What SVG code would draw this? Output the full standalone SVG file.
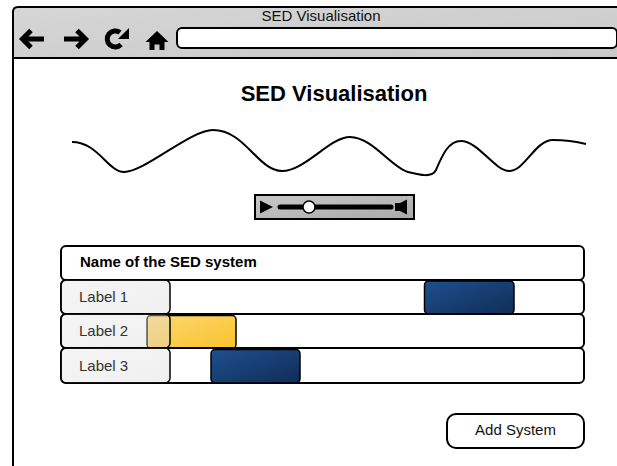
<svg xmlns="http://www.w3.org/2000/svg" width="617" height="466" viewBox="0 0 617 466">
  <style>
    text { font-family: "Liberation Sans", Arial, sans-serif; }
    .frame { fill: none; stroke: #000; stroke-width: 2; }
    .row { fill: #fff; stroke: #000; stroke-width: 2; }
    .lbl { fill: url(#labelFill); stroke: #000; stroke-width: 1.5; }
    .lbltxt { font-size: 15px; fill: #333; }
    .bar { stroke: #000; stroke-width: 1.5; }
    .icon { fill: none; stroke: #000; stroke-width: 5; stroke-linecap: butt; stroke-linejoin: miter; }
  </style>
  <defs>
    <linearGradient id="chrome" x1="0" y1="0" x2="1" y2="1">
      <stop offset="0" stop-color="#d6d6d6"/>
      <stop offset="1" stop-color="#c9c9c9"/>
    </linearGradient>
    <linearGradient id="playerFill" x1="0" y1="0" x2="1" y2="1">
      <stop offset="0" stop-color="#c9c9c9"/>
      <stop offset="1" stop-color="#a9a9a9"/>
    </linearGradient>
    <linearGradient id="labelFill" x1="0" y1="0" x2="1" y2="1">
      <stop offset="0" stop-color="#e4e4e4" stop-opacity="0.38"/>
      <stop offset="1" stop-color="#d8d8d8" stop-opacity="0.38"/>
    </linearGradient>
    <linearGradient id="blueFill" x1="0" y1="0" x2="1" y2="1">
      <stop offset="0" stop-color="#1e4f8e"/>
      <stop offset="1" stop-color="#102d57"/>
    </linearGradient>
    <linearGradient id="yellowFill" x1="0" y1="0" x2="1" y2="1">
      <stop offset="0" stop-color="#fbd974"/>
      <stop offset="1" stop-color="#fbc22a"/>
    </linearGradient>
  </defs>

  <rect width="617" height="466" fill="#fff"/>

  <!-- browser window -->
  <g id="browser">
    <path d="M13,58 L13,12 Q13,7 18,7 L620,7 L620,58 Z" fill="url(#chrome)"/>
    <path class="frame" d="M13,466 L13,12 Q13,7 18,7 L620,7"/>
    <line x1="13" y1="58" x2="620" y2="58" stroke="#000" stroke-width="2"/>
    <text x="321" y="21" font-size="15" text-anchor="middle" fill="#111">SED Visualisation</text>
    <rect x="177" y="28" width="440" height="20" rx="5" fill="#fff" stroke="#000" stroke-width="2"/>
  </g>

  <g id="nav-back">
    <path class="icon" d="M44,39 L23,39 M31,30.5 L22.5,39 L31,47.5"/>
  </g>
  <g id="nav-forward">
    <path class="icon" d="M64,39 L85,39 M77,30.5 L85.5,39 L77,47.5"/>
  </g>
  <g id="nav-reload">
    <path class="icon" d="M121,44.5 A8,8 0 1 1 120,32.5"/>
    <polygon points="129,28 129,39 118,39" fill="#000"/>
  </g>
  <g id="nav-home">
    <path d="M157,31 L145.5,42 L149.5,42 L149.5,50 L154.5,50 L154.5,44.5 L159.5,44.5 L159.5,50 L164.5,50 L164.5,42 L168.5,42 Z" fill="#000"/>
  </g>

  <g id="page-title">
    <text x="334" y="101" font-size="22" font-weight="bold" text-anchor="middle" fill="#000">SED Visualisation</text>
  </g>

  <!-- waveform -->
  <g id="waveform">
    <path d="M72,142 C98,142 108,172 124,172 C145,172 190,130 213,130 C245,130 258,171 282,171 C305,171 330,137 350,137 C372,137 392,168 408,172 C420,175 432,178 436,170 C442,156 448,141 461,141 C478,141 495,171 509,171 C525,171 535,140 553,140 C568,140 578,142 586,144" fill="none" stroke="#000" stroke-width="2"/>
  </g>

  <!-- audio player -->
  <g id="player">
    <rect x="255" y="195" width="159" height="24" fill="url(#playerFill)" stroke="#000" stroke-width="2"/>
    <polygon points="260,200.5 260,213.5 273,207" fill="#000"/>
    <line x1="280" y1="207" x2="391" y2="207" stroke="#000" stroke-width="5" stroke-linecap="round"/>
    <circle cx="309" cy="207" r="6" fill="#fff" stroke="#000" stroke-width="1.5"/>
    <path d="M395,203 L400,203 L407,199.5 L407,214.5 L400,211 L395,211 Z" fill="#000"/>
  </g>

  <!-- timeline table -->
  <g id="table-header">
    <rect class="row" x="61" y="246" width="523" height="34" rx="5"/>
    <text x="80" y="267" font-size="15" font-weight="bold" fill="#000">Name of the SED system</text>
  </g>

  <g id="row-1">
    <rect class="row" x="61" y="280" width="523" height="34" rx="5"/>
    <rect class="bar" x="424.5" y="281" width="89.5" height="33" rx="4" fill="url(#blueFill)"/>
    <rect class="lbl" x="61" y="280" width="109" height="34" rx="5"/>
    <text class="lbltxt" x="79" y="301.5">Label 1</text>
  </g>

  <g id="row-2">
    <rect class="row" x="61" y="314" width="523" height="34" rx="5"/>
    <rect class="bar" x="147" y="315.5" width="89" height="33" rx="4" fill="url(#yellowFill)"/>
    <rect class="lbl" x="61" y="314" width="109" height="34" rx="5"/>
    <text class="lbltxt" x="79" y="336">Label 2</text>
  </g>

  <g id="row-3">
    <rect class="row" x="61" y="348" width="523" height="35" rx="5"/>
    <rect class="bar" x="211" y="349.5" width="89" height="33.5" rx="4" fill="url(#blueFill)"/>
    <rect class="lbl" x="61" y="348" width="109" height="35" rx="5"/>
    <text class="lbltxt" x="79" y="370.5">Label 3</text>
  </g>

  <g id="add-system">
    <rect x="447" y="414" width="137" height="34" rx="9" fill="#fff" stroke="#000" stroke-width="2"/>
    <text x="515.5" y="435" font-size="15" text-anchor="middle" fill="#111">Add System</text>
  </g>

  <g id="connectors"/>
</svg>
